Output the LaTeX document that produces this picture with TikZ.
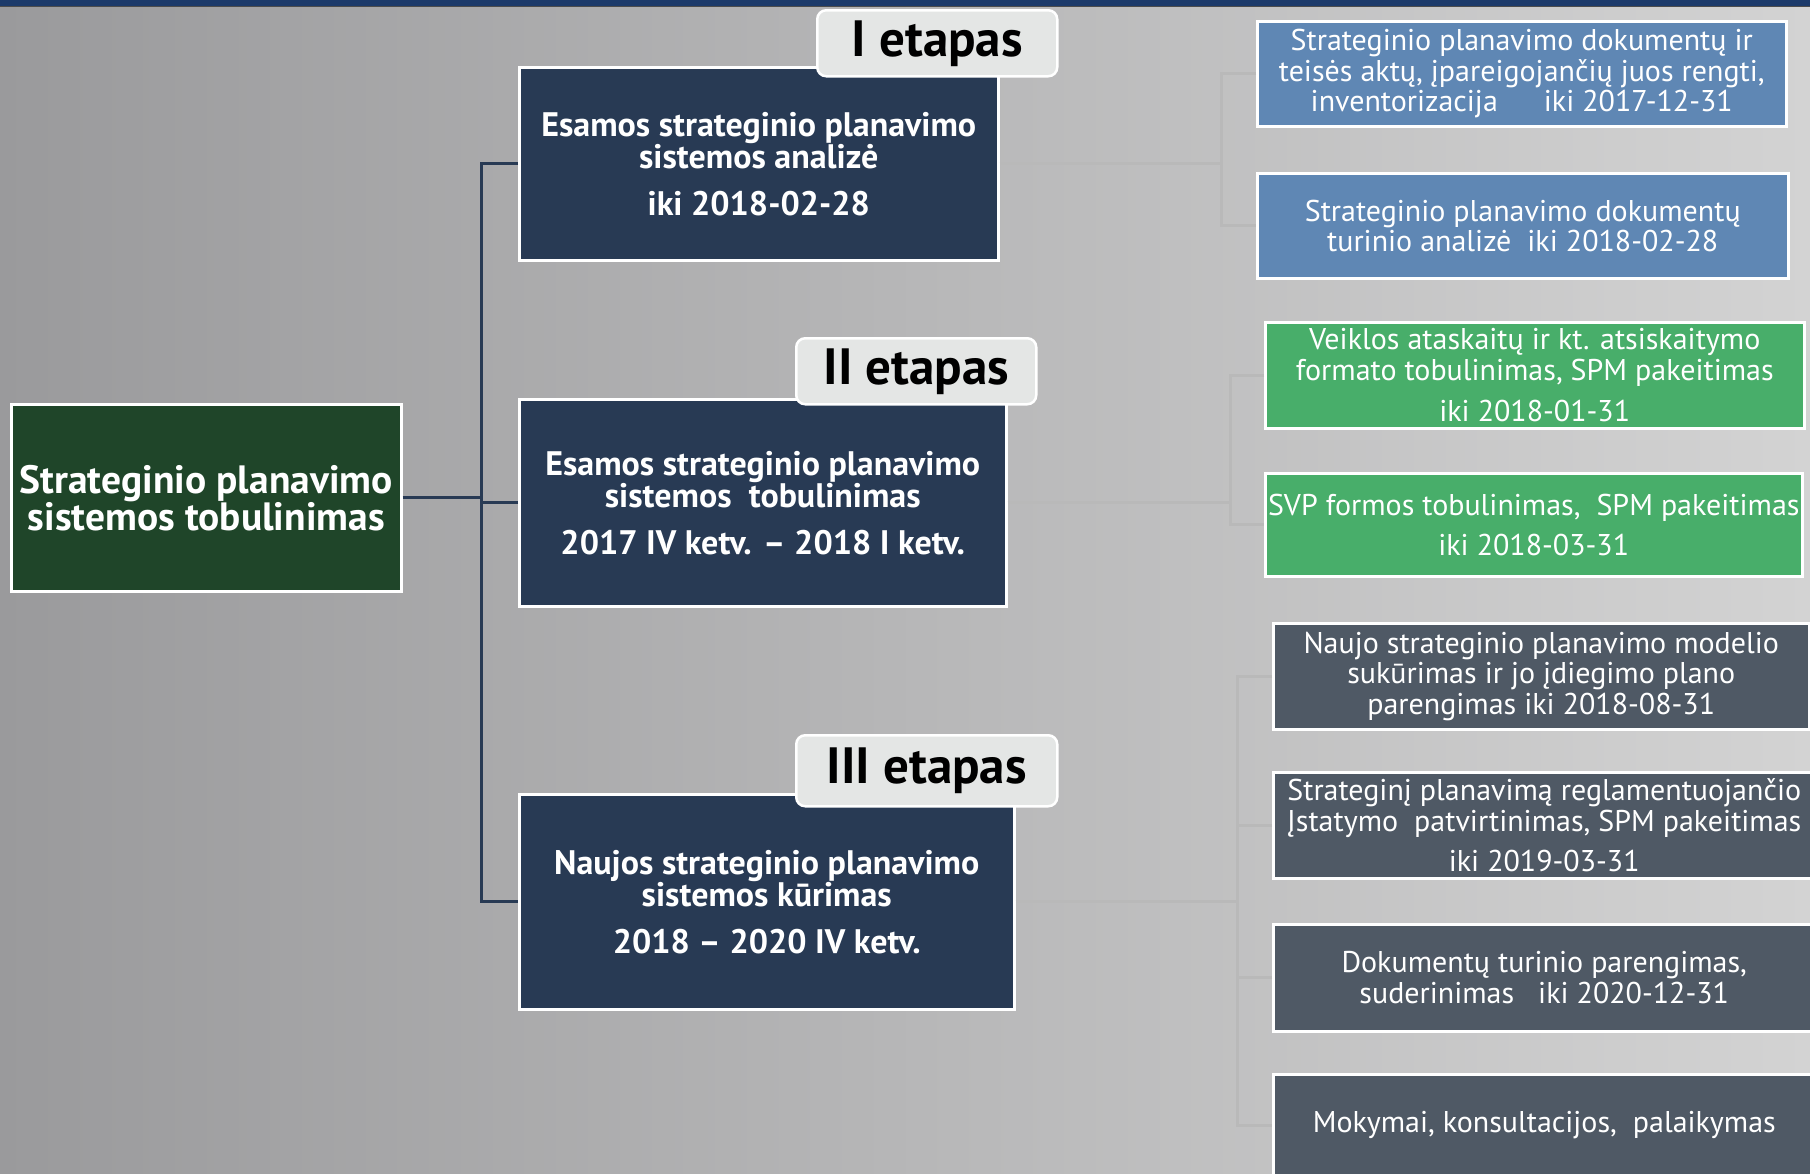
\documentclass[tikz,border=0pt]{standalone}
\usepackage{fontspec}
\setmainfont{PT Sans}
\definecolor{bgL}{HTML}{9A9A9C}
\definecolor{bgM}{HTML}{BCBCBD}
\definecolor{bgR}{HTML}{D3D3D3}
\definecolor{topbar}{HTML}{1C3A6A}
\definecolor{mainfill}{HTML}{1F4529}
\definecolor{stagefill}{HTML}{283A54}
\definecolor{tabfill}{HTML}{E4E6E5}
\definecolor{bluefill}{HTML}{5F87B4}
\definecolor{greenfill}{HTML}{48AE6A}
\definecolor{slatefill}{HTML}{4F5965}
\definecolor{lightline}{HTML}{B9B9B9}
\begin{document}
\begin{tikzpicture}[x=1pt,y=-1pt,
  box/.style={draw=white, line width=2.5pt, text=white, align=center, inner sep=0pt, anchor=north west},
  mainbox/.style={box, fill=mainfill, font=\bfseries\fontsize{39.5}{37}\selectfont},
  stagebox/.style={box, fill=stagefill, font=\bfseries\fontsize{34}{32}\selectfont},
  tabbox/.style={draw=white, line width=2.5pt, fill=tabfill, rounded corners=9pt, text=black, anchor=north west, inner sep=0pt, font=\bfseries\fontsize{51}{52}\selectfont},
  rbox/.style={box, font=\fontsize{30}{30.5}\selectfont},
  bluebox/.style={rbox, fill=bluefill},
  greenbox/.style={rbox, fill=greenfill},
  slatebox/.style={rbox, fill=slatefill},
  darkconn/.style={draw=stagefill, line width=3pt},
  lightconn/.style={draw=lightline, line width=3pt}
]
\useasboundingbox (0,0) rectangle (1810,1173);
\shade[left color=bgL, middle color=bgM, right color=bgR] (0,0) rectangle (1810,1173);
\fill[topbar] (0,0) rectangle (1810,6);
\draw[black!70, line width=1.5pt] (0,6.5) -- (1810,6.5);

% main node
\node[mainbox, minimum width=390pt, minimum height=187pt] (main) at (10,403) {Strateginio planavimo\\sistemos tobulinimas};

% stage boxes
\node[stagebox, minimum width=479pt, minimum height=193pt] (s1) at (518,66) {Esamos strateginio planavimo\\sistemos analizė\\[15pt]iki 2018-02-28};
\node[stagebox, minimum width=487pt, minimum height=207pt] (s2) at (518,398) {Esamos strateginio planavimo\\sistemos\ \ tobulinimas\\[15pt]2017 IV ketv. – 2018 I ketv.};
\node[stagebox, minimum width=495pt, minimum height=215pt] (s3) at (518,793) {Naujos strateginio planavimo\\sistemos kūrimas\\[15pt]2018 – 2020 IV ketv.};

% right boxes
\node[bluebox, minimum width=529pt, minimum height=105pt] (r1) at (1256,20) {Strateginio planavimo dokumentų ir\\teisės aktų, įpareigojančių juos rengti,\\inventorizacija\quad\ \ iki 2017-12-31};
\node[bluebox, minimum width=531pt, minimum height=105pt] (r2) at (1256,172) {Strateginio planavimo dokumentų\\turinio analizė\ \ iki 2018-02-28};
\node[greenbox, minimum width=539pt, minimum height=106pt] (g1) at (1264,321) {Veiklos ataskaitų ir kt. atsiskaitymo\\formato tobulinimas, SPM pakeitimas\\[11pt]iki 2018-01-31};
\node[greenbox, minimum width=537pt, minimum height=103pt] (g2) at (1264,472) {SVP formos tobulinimas,\ \ SPM pakeitimas\\[10pt]iki 2018-03-31};
\node[slatebox, minimum width=536pt, minimum height=106pt] (d1) at (1272,622) {Naujo strateginio planavimo modelio\\sukūrimas ir jo įdiegimo plano\\parengimas iki 2018-08-31};
\node[slatebox, minimum width=542pt, minimum height=106pt] (d2) at (1272,771) {Strateginį planavimą reglamentuojančio\\Įstatymo\ \ patvirtinimas, SPM pakeitimas\\[10pt]iki 2019-03-31};
\node[slatebox, minimum width=542pt, minimum height=107pt] (d3) at (1272,923) {Dokumentų turinio parengimas,\\suderinimas\ \ \ iki 2020-12-31};
\node[slatebox, minimum width=542pt, minimum height=102pt] (d4) at (1272,1073) {Mokymai, konsultacijos,\ \ palaikymas};

% junction coordinates
\coordinate (tk) at (481,0);
\coordinate (j1) at (1221,0);
\coordinate (j2) at (1230,0);
\coordinate (j3) at (1237,0);

% dark connectors
\draw[darkconn] (main.east) -- (main.east -| tk);
\draw[darkconn] (s1.west) -- (s1.west -| tk) -- (s3.west -| tk) -- (s3.west);
\draw[darkconn] (s2.west) -- (s2.west -| tk);

% light connectors
\draw[lightconn] (s1.east) -- (s1.east -| j1);
\draw[lightconn] (r1.west) -- (r1.west -| j1) -- (r2.west -| j1) -- (r2.west);
\draw[lightconn] (s2.east) -- (s2.east -| j2);
\draw[lightconn] (g1.west) -- (g1.west -| j2) -- (g2.west -| j2) -- (g2.west);
\draw[lightconn] (s3.east) -- (s3.east -| j3);
\draw[lightconn] (d1.west) -- (d1.west -| j3) -- (d4.west -| j3) -- (d4.west);
\draw[lightconn] (d2.west) -- (d2.west -| j3);
\draw[lightconn] (d3.west) -- (d3.west -| j3);

% tabs
\node[tabbox, minimum width=240pt, minimum height=66pt] (t1) at (816,9) {I etapas};
\node[tabbox, minimum width=240pt, minimum height=66pt] (t2) at (795,337) {II etapas};
\node[tabbox, minimum width=261pt, minimum height=71pt] (t3) at (795,734) {III etapas};
\end{tikzpicture}
\end{document}
